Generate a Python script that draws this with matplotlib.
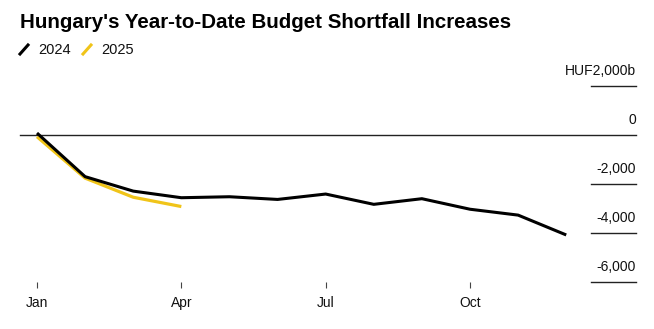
import matplotlib.pyplot as plt
from matplotlib.lines import Line2D

plt.rcParams['font.family'] = ['Liberation Sans', 'DejaVu Sans']

months = ['Jan', 'Feb', 'Mar', 'Apr', 'May', 'Jun',
          'Jul', 'Aug', 'Sep', 'Oct', 'Nov', 'Dec']
# cumulative budget balance, HUF bn
balance_2024 = [80, -1700, -2290, -2560, -2520, -2630,
                -2410, -2830, -2600, -3030, -3270, -4080]
balance_2025 = [-70, -1760, -2540, -2920]

yticks = [2000, 0, -2000, -4000, -6000]
ytick_labels = ['HUF2,000b', '0', '-2,000', '-4,000', '-6,000']
xtick_months = ['Jan', 'Apr', 'Jul', 'Oct']

black = '#000000'
yellow = '#f0c419'


def main():
    fig = plt.figure(figsize=(6.54, 3.29), dpi=100)
    ax = fig.add_axes([20 / 654, 47 / 329, 616 / 654, 196 / 329])

    x24 = list(range(len(balance_2024)))
    x25 = list(range(len(balance_2025)))

    # grid: full zero line, short stubs for the other levels
    for v in yticks:
        if v == 0:
            ax.axhline(v, color='#222222', lw=1.0, zorder=1, clip_on=False)
        else:
            ax.axhline(v, xmin=0.927, xmax=1.0, color='#222222', lw=1.0,
                       zorder=1, clip_on=False)
    for v, lab in zip(yticks, ytick_labels):
        ax.annotate(lab, xy=(1.0, v), xycoords=('axes fraction', 'data'),
                    xytext=(0, 6), textcoords='offset points',
                    ha='right', va='bottom', fontsize=10, color='#111111')

    ax.plot(x25, balance_2025, color=yellow, lw=2.3, solid_capstyle='butt',
            solid_joinstyle='round', zorder=2)
    ax.plot(x24, balance_2024, color=black, lw=2.2, solid_capstyle='butt',
            solid_joinstyle='round', zorder=3)

    ax.set_xlim(-0.353, 12.45)
    ax.set_ylim(-6000, 2000)
    ax.set_xticks([months.index(m) for m in xtick_months])
    ax.set_xticklabels(xtick_months, fontsize=10, color='#111111')
    ax.tick_params(axis='x', length=4, width=0.8, color='#444444', pad=6)
    ax.set_yticks([])
    for s in ax.spines.values():
        s.set_visible(False)

    fig.text(20 / 654, 1 - 22 / 329, "Hungary's Year-to-Date Budget Shortfall Increases",
             fontsize=14.8, fontweight='bold', va='center', ha='left')

    # legend: slanted strokes with year labels
    for x0, col, lab in [(20, black, '2024'), (83, yellow, '2025')]:
        fig.add_artist(Line2D([x0 / 654, (x0 + 8) / 654],
                              [1 - 54 / 329, 1 - 45 / 329],
                              color=col, lw=2.2, transform=fig.transFigure))
        fig.text((x0 + 18) / 654, 1 - 49.5 / 329, lab, fontsize=10.5,
                 va='center', ha='left', color='#111111')

    fig.savefig('out.png', dpi=100)


if __name__ == '__main__':
    main()
